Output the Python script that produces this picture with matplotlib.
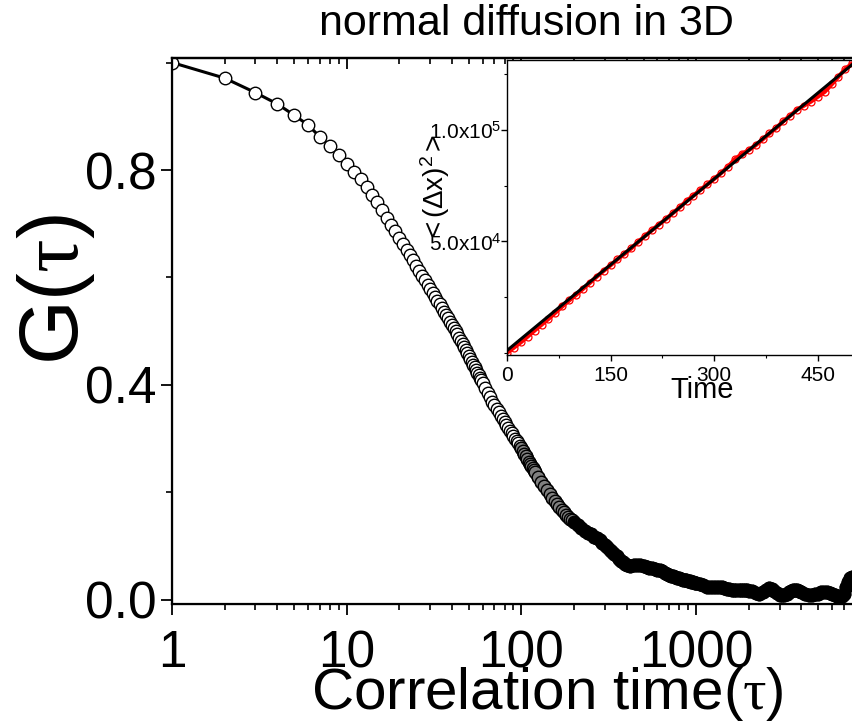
import numpy as np
import matplotlib
matplotlib.use("Agg")
import matplotlib.pyplot as plt
from matplotlib import ticker

plt.rcParams["font.family"] = ["Liberation Sans", "DejaVu Sans"]
plt.rcParams["mathtext.fontset"] = "custom"
plt.rcParams["mathtext.rm"] = "Liberation Serif"
plt.rcParams["mathtext.it"] = "Liberation Serif:italic"

# --- main curve: G(tau) ---
tau = ([1, 2, 3, 4, 5, 6, 7, 8, 9, 10, 11, 12, 13, 14, 15, 16, 17, 18, 19, 20,
        21, 22, 23, 24, 25, 26, 27, 28, 29, 30, 31, 32, 33, 34, 35, 36, 37, 38, 39, 40,
        41, 42, 43, 44, 45, 46, 47, 48, 49, 50, 51, 52, 53, 54, 55, 56, 57, 58, 59, 60,
        62, 64, 66, 68, 70, 72, 74, 76, 78, 80, 82, 84, 86, 88, 90, 92, 94, 96, 98, 100,
        102, 104, 106, 108, 110, 112, 114, 116, 118, 120,
        125, 130, 135, 140, 145, 150, 155, 160, 165, 170, 175, 180, 185, 190, 195, 200,
        210, 220, 230, 240, 250, 260, 270, 280, 290, 300, 310, 320, 330, 340, 350, 360,
        370, 380, 390, 400,
        420, 440, 460, 480, 500, 520, 540, 560, 580, 600, 620, 640, 660, 680, 700, 720,
        740, 760, 780, 800, 820, 840, 860, 880, 900, 920, 940, 960, 980, 1000,
        1050, 1100, 1150, 1200, 1250, 1300, 1350, 1400, 1450, 1500, 1550, 1600, 1650,
        1700, 1750, 1800, 1850, 1900, 1950, 2000,
        2100, 2200, 2300, 2400, 2500, 2600, 2700, 2800, 2900, 3000, 3100, 3200, 3300,
        3400, 3500, 3600, 3700, 3800, 3900, 4000,
        4200, 4400, 4600, 4800, 5000, 5200, 5400, 5600, 5800, 6000, 6200, 6400, 6600,
        6800, 7000, 7200, 7400, 7600, 7800])
G = ([1.000, 0.971, 0.944, 0.923, 0.902, 0.884, 0.862, 0.845, 0.828, 0.812,
      0.797, 0.783, 0.768, 0.753, 0.740, 0.725, 0.711, 0.698, 0.686, 0.674,
      0.663, 0.652, 0.641, 0.632, 0.622, 0.613, 0.603, 0.595, 0.586, 0.578,
      0.571, 0.563, 0.556, 0.550, 0.543, 0.536, 0.530, 0.524, 0.518, 0.512,
      0.506, 0.500, 0.494, 0.488, 0.482, 0.476, 0.470, 0.465, 0.459, 0.454,
      0.449, 0.443, 0.438, 0.433, 0.428, 0.423, 0.418, 0.413, 0.409, 0.404,
      0.395, 0.385, 0.377, 0.369, 0.362, 0.355, 0.349, 0.343, 0.337, 0.331,
      0.326, 0.320, 0.315, 0.310, 0.305, 0.300, 0.296, 0.292, 0.287, 0.283,
      0.278, 0.272, 0.267, 0.262, 0.257, 0.253, 0.249, 0.245, 0.242, 0.238,
      0.229, 0.220, 0.212, 0.204, 0.197, 0.190, 0.184, 0.178, 0.173, 0.168,
      0.163, 0.158, 0.155, 0.151, 0.148, 0.145,
      0.139, 0.133, 0.129, 0.125, 0.122, 0.118, 0.115, 0.111, 0.106, 0.102,
      0.098, 0.093, 0.089, 0.085, 0.081, 0.077, 0.073, 0.070, 0.067, 0.065,
      0.064, 0.065, 0.065, 0.065, 0.064, 0.062, 0.060, 0.059, 0.058, 0.056,
      0.055, 0.053, 0.051, 0.049, 0.047, 0.045, 0.044, 0.042, 0.041, 0.040,
      0.039, 0.038, 0.037, 0.037, 0.036, 0.035, 0.034, 0.033, 0.032, 0.031,
      0.030, 0.027, 0.025, 0.024, 0.024, 0.025, 0.025, 0.024, 0.022, 0.021,
      0.020, 0.019, 0.019, 0.018, 0.018, 0.018, 0.019, 0.019, 0.018, 0.017,
      0.016, 0.013, 0.012, 0.015, 0.019, 0.022, 0.020, 0.016, 0.013, 0.010,
      0.009, 0.010, 0.012, 0.014, 0.016, 0.018, 0.019, 0.018, 0.016, 0.014,
      0.011, 0.009, 0.009, 0.011, 0.012, 0.014, 0.015, 0.015, 0.013, 0.011,
      0.009, 0.007, 0.006, 0.008, 0.012, 0.024, 0.034, 0.040, 0.043])

x_ticks = [1, 10, 100, 1000]
x_ticklabels = ["1", "10", "100", "1000"]
y_ticks = [0.0, 0.4, 0.8]
y_ticklabels = ["0.0", "0.4", "0.8"]

# --- inset: mean square displacement ---
t_msd = [0, 10, 20, 30, 40, 50, 60, 70, 80, 90, 100, 110, 120, 130, 140, 150, 160,
         170, 180, 190, 200, 210, 220, 230, 240, 250, 260, 270, 280, 290, 300, 310,
         320, 330, 340, 350, 360, 370, 380, 390, 400, 410, 420, 430, 440, 450, 460,
         470, 480, 490, 500]
msd = [0, 2300, 4700, 7300, 10000, 12600, 15200, 18000, 20800, 23500, 26000, 28700,
       31400, 34200, 36800, 39300, 42000, 44400, 46900, 49800, 52500, 55100, 57600,
       60000, 62700, 65300, 68200, 70600, 73200, 75600, 78100, 80700, 83600, 86900,
       89300, 91000, 93200, 95800, 98500, 101000, 104000, 106500, 109200, 111000,
       112800, 115000, 117200, 120500, 124000, 127500, 130000]
fit_t = [0, 500]
fit_msd = [1000, 129500]

inset_xticks = [0, 150, 300, 450]
inset_yticks = [5.0e4, 1.0e5]
inset_yticklabels = [r"$\mathregular{5.0x10^{4}}$", r"$\mathregular{1.0x10^{5}}$"]

W, H = 853, 725
fig = plt.figure(figsize=(W / 100, H / 100), dpi=100)

ax = fig.add_axes([172 / W, 1 - 604 / H, 681 / W, 546 / H])
tau = np.array(tau)
G = np.array(G)
ax.plot(tau, G, "-o", color="black", lw=2.2, ms=9, mfc="white", mec="black", mew=1.0)
# where the original points pile up the band turns grey, then solid black
mid = (tau >= 100) & (tau < 200)
tail = tau >= 200
ax.plot(tau[mid], G[mid], "o", ms=9, mfc="0.5", mec="black", mew=1.0)
ax.plot(tau[tail], G[tail], "o", ms=9, mfc="black", mec="black", mew=1.0)

ax.set_xscale("log")
ax.set_xlim(1, 7900)
ax.set_ylim(-0.0075, 1.0084)
ax.set_xticks(x_ticks)
ax.set_xticklabels(x_ticklabels)
ax.xaxis.set_minor_locator(ticker.LogLocator(base=10, subs=np.arange(2, 10)))
ax.xaxis.set_minor_formatter(ticker.NullFormatter())
ax.set_yticks(y_ticks)
ax.set_yticklabels(y_ticklabels)
ax.yaxis.set_minor_locator(ticker.FixedLocator([0.2, 0.6, 1.0]))

ax.spines["right"].set_visible(False)
for s in ["left", "bottom", "top"]:
    ax.spines[s].set_linewidth(1.6)
ax.tick_params(axis="both", which="major", direction="out", length=8, width=1.3,
               labelsize=37, pad=3)
ax.tick_params(axis="both", which="minor", direction="out", length=4.5, width=1.2)
ax.tick_params(axis="x", which="major", pad=10)
ax.tick_params(axis="y", which="both", right=False)

# top axis: same log ticks, pointing inward
top = ax.twiny()
top.set_xscale("log")
top.set_xlim(ax.get_xlim())
top.set_xticks(x_ticks)
top.xaxis.set_minor_locator(ticker.LogLocator(base=10, subs=np.arange(2, 10)))
top.tick_params(axis="x", which="both", direction="in", labeltop=False,
                labelbottom=False)
top.tick_params(axis="x", which="major", length=8, width=1.3)
top.tick_params(axis="x", which="minor", length=4.5, width=1.2)
top.spines["right"].set_visible(False)
top.spines["top"].set_linewidth(1.6)

ax.set_xlabel(r"Correlation time($\mathrm{\tau}$)", fontsize=42)
ax.xaxis.set_label_coords(0.551, -0.112)
ax.set_ylabel(r"G($\mathrm{\tau}$)", fontsize=60)
ax.yaxis.set_label_coords(-0.11, 0.575)

fig.text(526 / W, 1 - 24 / H, "normal diffusion in 3D", fontsize=31,
         ha="center", va="center")

# inset
ins = fig.add_axes([507 / W, 1 - 355 / H, 346 / W, 295 / H])
ins.plot(t_msd, msd, "-o", color="red", lw=3.0, ms=5, mfc="none", mec="red", mew=0.9)
ins.plot(fit_t, fit_msd, "-", color="black", lw=2.2)
ins.set_xlim(0, 501)
ins.set_ylim(-1000, 131500)
ins.set_xticks(inset_xticks)
ins.xaxis.set_minor_locator(ticker.MultipleLocator(75))
ins.set_yticks(inset_yticks)
ins.set_yticklabels(inset_yticklabels)
ins.yaxis.set_minor_locator(ticker.MultipleLocator(25000))
ins.spines["right"].set_visible(False)
for s in ["left", "bottom", "top"]:
    ins.spines[s].set_linewidth(1.0)
ins.tick_params(axis="both", which="major", direction="out", length=4, width=1.0,
                labelsize=15, pad=4)
ins.tick_params(axis="both", which="minor", direction="out", length=2.5, width=0.8)
ins.tick_params(axis="y", which="major", pad=0)
ins.set_xlabel("Time", fontsize=21)
ins.xaxis.set_label_coords(0.564, -0.07)
ins.set_ylabel(r"$\mathregular{<(\Delta x)^2>}$", fontsize=20)
ins.yaxis.set_label_coords(-0.158, 0.566)

fig.savefig("out.png", dpi=100)
